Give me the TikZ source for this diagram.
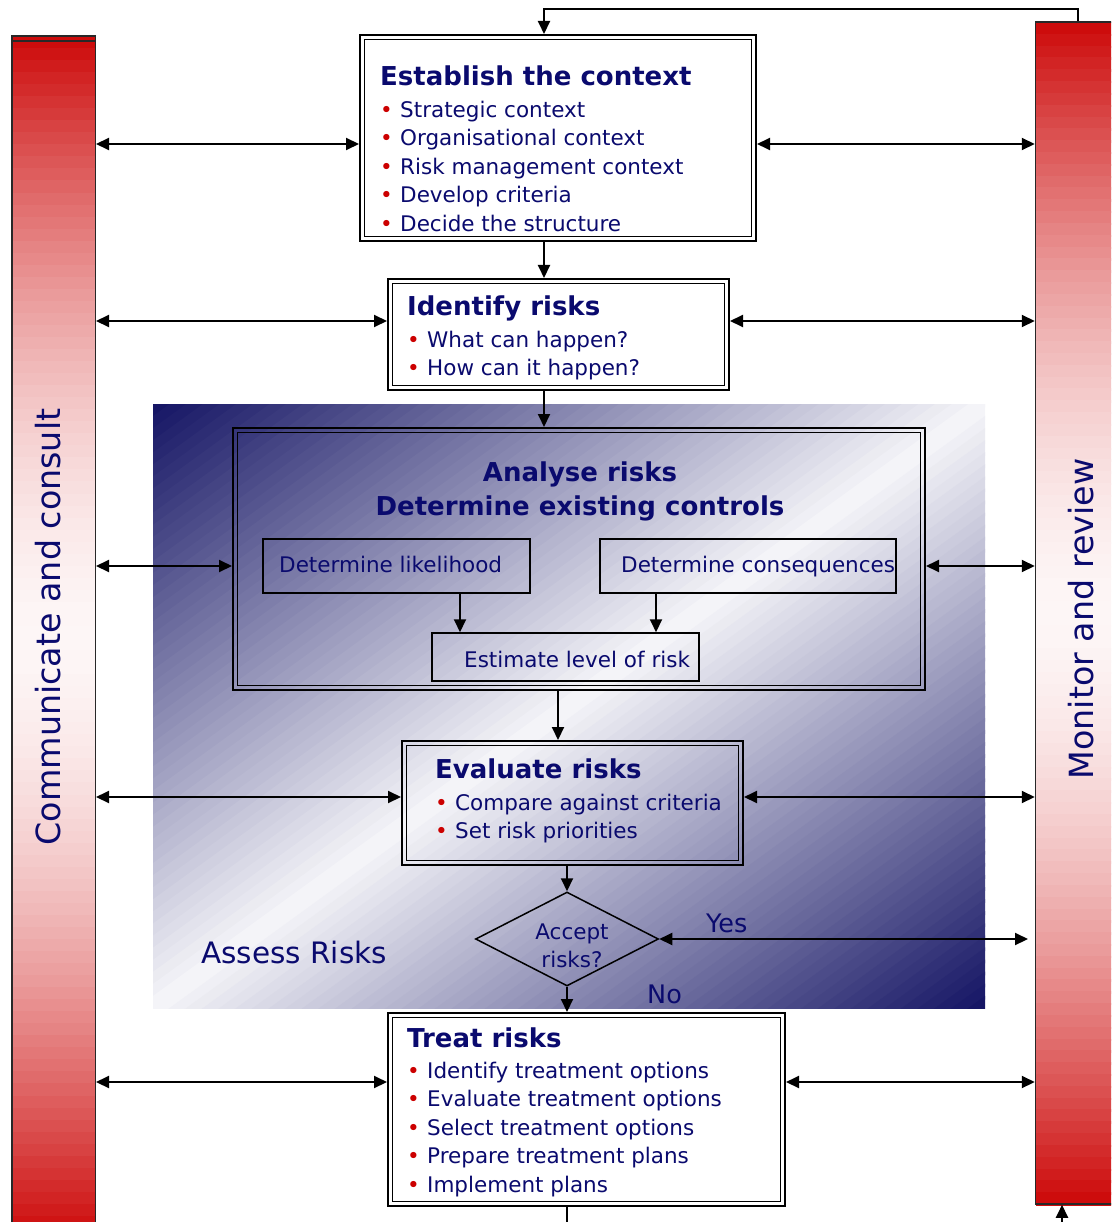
\documentclass[tikz,border=0pt]{standalone}
\usepackage{fontspec}
\setmainfont{DejaVu Sans}
\usetikzlibrary{arrows.meta,shapes.geometric}
\definecolor{navy}{RGB}{10,10,110}
\definecolor{bulred}{RGB}{204,0,0}
\definecolor{barred}{RGB}{204,8,8}
\definecolor{barmid}{RGB}{253,246,246}
\definecolor{barline}{RGB}{40,40,40}
\definecolor{shnavy}{RGB}{20,20,100}
\definecolor{shwhite}{RGB}{246,246,249}
\newcommand{\bodyfont}{\fontsize{21.5}{28.5}\selectfont}
\newcommand{\titlefont}{\fontsize{26}{30}\selectfont\bfseries}
\newcommand{\bitem}[1]{\makebox[20pt][l]{\hspace*{0pt}\textcolor{bulred}{•}}#1}
\newcommand{\innerbox}[1]{\draw[line width=1.8pt] ([xshift=5.5pt,yshift=-5.5pt]#1.north west) rectangle ([xshift=-5.5pt,yshift=5.5pt]#1.south east);}
\tikzset{
  obox/.style={draw=black, line width=2pt, inner sep=0pt, outer sep=1pt},
  sbox/.style={draw=black, line width=1.5pt, inner sep=0pt, outer sep=0.75pt},
  arr/.style={line width=2pt, -{Triangle[length=13pt,width=12pt]}},
  dbl/.style={line width=2pt, {Triangle[length=13pt,width=12pt]}-{Triangle[length=13pt,width=12pt]}},
  txt/.style={inner sep=0pt, anchor=base west, text=navy, font=\bodyfont},
  ttl/.style={inner sep=0pt, anchor=base west, text=navy, font=\titlefont},
  bar/.style={draw=barline, line width=1.5pt, inner sep=0pt, outer sep=0.75pt},
  bartext/.style={rotate=90, anchor=base, inner sep=0pt, text=navy, font=\fontsize{33.3}{40}\selectfont},
}
\begin{document}
\begin{tikzpicture}[x=1pt,y=-1pt]
\useasboundingbox (0,0) rectangle (1111,1222);
\clip (0,0) rectangle (1111,1222);
% shaded assess region (diagonal bands)
\begin{scope}
\clip (153,404) rectangle (985,1008);
\foreach \k in {0,...,99}{
  \pgfmathsetmacro{\ta}{\k/50}
  \pgfmathsetmacro{\tb}{(\k+1.3)/50}
  \pgfmathsetmacro{\pw}{100*(1-abs((\k+0.5)/50-1))}
  \fill[shwhite!\pw!shnavy] ({153+832*\ta},404) -- ({153+832*\tb},404) -- (153,{404+604*\tb}) -- (153,{404+604*\ta}) -- cycle;
}
\end{scope}
% bars (stepped vertical gradient)
\foreach \k in {0,...,99}{
  \pgfmathsetmacro{\ya}{36+12.04*\k}
  \pgfmathsetmacro{\yb}{36+12.04*(\k+1.2)}
  \pgfmathsetmacro{\pw}{100*(1-(abs((\k+0.5)/50-1))^1.7)}
  \fill[barmid!\pw!barred] (11.75,\ya) rectangle (95.25,\yb);
  \pgfmathsetmacro{\yc}{22+11.82*\k}
  \pgfmathsetmacro{\yd}{22+11.82*(\k+1.2)}
  \fill[barmid!\pw!barred] (1035.5,\yc) rectangle (1124.5,\yd);
}
\node[bar, minimum width=83.5pt, minimum height=1204pt] (leftbar) at (53.5,638) {};
\draw[barline, line width=1.5pt] (leftbar.north west |- 0,41) -- (leftbar.north east |- 0,41);
\node[bartext] (cc) at (60,627) {Communicate and consult};
\node[bar, minimum width=89pt, minimum height=1182pt] (rightbar) at (1080,613) {};
\node[bartext] (mr) at (1093,619) {Monitor and review};
% establish
\node[obox, fill=white, minimum width=396pt, minimum height=206pt] (est) at (558,138) {};
\innerbox{est}
\node[ttl] (estt) at (380,86) {Establish the context};
\foreach \t [count=\i] in {Strategic context, Organisational context, Risk management context, Develop criteria, Decide the structure}
  \node[txt] (estl\i) at (380,{117.5+28.5*(\i-1)}) {\bitem{\t}};
% identify
\node[obox, fill=white, minimum width=341pt, minimum height=111pt] (idf) at (558.5,334.5) {};
\innerbox{idf}
\node[ttl] (idft) at (407,315) {Identify risks};
\foreach \t [count=\i] in {What can happen?, How can it happen?}
  \node[txt] (idfl\i) at (407,{347+28.5*(\i-1)}) {\bitem{\t}};
% analyse
\node[obox, minimum width=692pt, minimum height=262pt] (ana) at (579,559) {};
\innerbox{ana}
\node[inner sep=0pt, anchor=base, text=navy, font=\titlefont] (anat1) at (580,481) {Analyse risks};
\node[inner sep=0pt, anchor=base, text=navy, font=\titlefont] (anat2) at (580,515) {Determine existing controls};
\node[sbox, minimum width=267pt, minimum height=54pt] (lik) at (396.5,566) {};
\node[txt] (likt) at (279,572) {Determine likelihood};
\node[sbox, minimum width=296pt, minimum height=54pt] (con) at (748,566) {};
\node[txt] (cont) at (621,572) {Determine consequences};
\node[sbox, minimum width=267pt, minimum height=48pt] (estm) at (565.5,657) {};
\node[txt] (estmt) at (464,667) {Estimate level of risk};
\draw[arr] (lik.south -| 460,0) -- (estm.north -| 460,0);
\draw[arr] (con.south -| 656,0) -- (estm.north -| 656,0);
% evaluate
\node[obox, minimum width=341pt, minimum height=124pt] (eva) at (572.5,803) {};
\innerbox{eva}
\node[ttl] (evat) at (435,778) {Evaluate risks};
\foreach \t [count=\i] in {Compare against criteria, Set risk priorities}
  \node[txt] (eval\i) at (435,{810+28.5*(\i-1)}) {\bitem{\t}};
% decision
\node[draw=black, line width=1.5pt, shape=diamond, inner sep=0pt, minimum width=183pt, minimum height=94pt] (dec) at (567,939) {};
\node[inner sep=0pt, anchor=base, text=navy, font=\bodyfont] (dect1) at (572,939) {Accept};
\node[inner sep=0pt, anchor=base, text=navy, font=\bodyfont] (dect2) at (572,967) {risks?};
\node[inner sep=0pt, anchor=base west, text=navy, font=\fontsize{25.5}{30}\selectfont] (yes) at (706,932) {Yes};
\node[inner sep=0pt, anchor=base west, text=navy, font=\fontsize{25.5}{30}\selectfont] (no) at (647,1003) {No};
\node[inner sep=0pt, anchor=base west, text=navy, font=\fontsize{29.5}{34}\selectfont] (assess) at (201,963) {Assess Risks};
% treat
\node[obox, fill=white, minimum width=397pt, minimum height=193pt] (trt) at (586.5,1109.5) {};
\innerbox{trt}
\node[ttl] (trtt) at (407,1047) {Treat risks};
\foreach \t [count=\i] in {Identify treatment options, Evaluate treatment options, Select treatment options, Prepare treatment plans, Implement plans}
  \node[txt] (trtl\i) at (407,{1078+28.5*(\i-1)}) {\bitem{\t}};
% coordinates
\coordinate (fbR) at (1078,9);
\coordinate (fbL) at (544,9);
\coordinate (botL) at (567,1232);
\coordinate (botR) at (1062,1232);
\coordinate (yesE) at (1028,939);
% main flow
\draw[arr] (rightbar.north -| fbR) -- (fbR) -- (fbL) -- (est.north -| fbL);
\draw[arr] (est.south -| 544,0) -- (idf.north -| 544,0);
\draw[arr] (idf.south -| 544,0) -- (ana.north -| 544,0);
\draw[arr] (ana.south -| 558,0) -- (eva.north -| 558,0);
\draw[arr] (eva.south -| dec.north) -- (dec.north);
\draw[arr] (dec.south) -- (trt.north -| dec.south);
\draw[line width=2pt] (trt.south -| botL) -- (botL);
\draw[arr] (botR) -- (rightbar.south -| botR);
\draw[dbl] (dec.east) -- (yesE);
% side arrows
\foreach \n/\yy in {est/144, idf/321, ana/566, eva/797, trt/1082} {
  \draw[dbl] (leftbar.east |- 0,\yy) -- (\n.west |- 0,\yy);
  \draw[dbl] (\n.east |- 0,\yy) -- (rightbar.west |- 0,\yy);
}
\end{tikzpicture}
\end{document}
